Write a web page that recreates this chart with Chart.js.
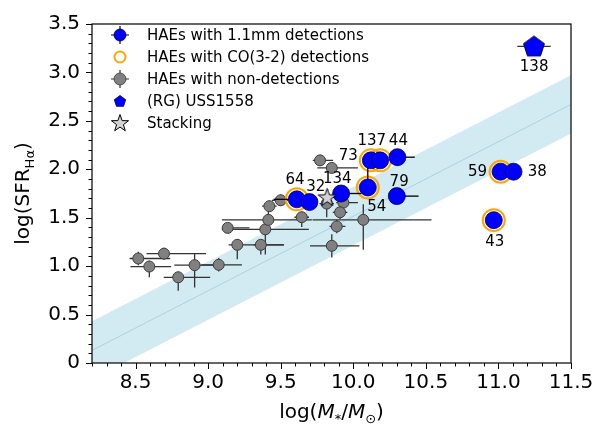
<!DOCTYPE html>
<html>
<head>
<meta charset="utf-8">
<script src="https://cdn.jsdelivr.net/npm/chart.js@4.4.0/dist/chart.umd.min.js"></script>
<style>
body { margin: 0; background: #fff; }
canvas { display: block; }
</style>
</head>
<body>
<canvas id="chart" width="605" height="430"></canvas>
<script>
// HAEs with 1.1mm detections
const mmX = [9.611, 9.698, 9.916, 10.100, 10.121, 10.185, 10.304, 10.300, 11.015, 11.104, 10.968];
const mmY = [1.690, 1.662, 1.750, 1.813, 2.092, 2.092, 2.125, 1.723, 1.975, 1.975, 1.475];
const mmXerrLo = [0.16, 0, 0, 0, 0, 0, 0, 0, 0, 0, 0];
const mmXerrHi = [0, 0, 0.14, 0, 0, 0, 0.12, 0.15, 0, 0, 0];
const mmYerrLo = [0, 0, 0, 0, 0, 0, 0, 0, 0, 0, 0];
const mmYerrHi = [0, 0, 0, 0.28, 0, 0, 0, 0, 0, 0, 0];

// HAEs with CO(3-2) detections
const coX = [9.611, 10.100, 10.121, 10.185, 11.015, 10.968];
const coY = [1.690, 1.813, 2.092, 2.092, 1.975, 1.475];

// HAEs with non-detections
const ndX = [8.519, 8.595, 8.696, 8.794, 8.907, 9.073, 9.201, 9.135, 9.363, 9.394, 9.415,
             9.422, 9.500, 9.645, 9.771, 9.852, 9.817, 9.932, 9.909, 9.886, 9.852, 10.069];
const ndY = [1.079, 0.996, 1.129, 0.885, 1.010, 1.014, 1.220, 1.395, 1.220, 1.380, 1.478,
             1.619, 1.680, 1.505, 2.092, 2.014, 1.646, 1.656, 1.556, 1.410, 1.210, 1.478];
const ndXerrLo = [0.06, 0.13, 0.12, 0.10, 0.14, 0.12, 0.06, 0.02, 0.05, 0.30, 0.32,
                  0.05, 0.06, 0.05, 0.05, 0.10, 0.05, 0.05, 0.05, 0.05, 0.15, 0.35];
const ndXerrHi = [0.22, 0.15, 0.29, 0.22, 0.14, 0.16, 0.32, 0.15, 0.16, 0.30, 0.30,
                  0.05, 0.05, 0.05, 0.09, 0.18, 0.05, 0.10, 0.05, 0.06, 0.19, 0.47];
const ndYerrLo = [0.07, 0.11, 0.06, 0.14, 0.23, 0.07, 0.15, 0.05, 0.10, 0.26, 0.08,
                  0.06, 0.06, 0.10, 0.05, 0.05, 0.14, 0.08, 0.07, 0.07, 0.12, 0.31];
const ndYerrHi = [0.07, 0.06, 0.06, 0.06, 0.12, 0.07, 0.06, 0.05, 0.05, 0.06, 0.08,
                  0.06, 0.06, 0.06, 0.05, 0.05, 0.06, 0.08, 0.07, 0.07, 0.12, 0.16];

// radio galaxy + stacking
const rgX = [11.245];
const rgY = [3.27];
const rgXerr = [0.115];
const stackX = [9.82];
const stackY = [1.71];

// main sequence band
const msX = [8.2, 11.5];
const msMid = [0.13, 2.67];
const msUp = [0.43, 2.97];
const msLo = [-0.17, 2.37];

// id labels
const labelText = ['138', '59', '38', '43', '137', '44', '73', '79', '134', '32', '64', '54'];
const labelX = [11.246, 10.856, 11.267, 10.975, 10.127, 10.311, 9.966, 10.316, 9.890, 9.742, 9.599, 10.162];
const labelY = [3.056, 1.975, 1.975, 1.25, 2.293, 2.293, 2.135, 1.868, 1.901, 1.817, 1.891, 1.606];

const xTicks = [8.5, 9.0, 9.5, 10.0, 10.5, 11.0, 11.5];
const xTickLabels = ['8.5', '9.0', '9.5', '10.0', '10.5', '11.0', '11.5'];
const yTicks = [0, 0.5, 1.0, 1.5, 2.0, 2.5, 3.0, 3.5];
const yTickLabels = ['0', '0.5', '1.0', '1.5', '2.0', '2.5', '3.0', '3.5'];

const legendLabels = ['HAEs with 1.1mm detections', 'HAEs with CO(3-2) detections',
  'HAEs with non-detections', '(RG) USS1558', 'Stacking'];

const FONT = 'DejaVu Sans';
Chart.defaults.font.family = FONT;

function polyPath(ctx, cx, cy, n, r, rin) {
  ctx.beginPath();
  const pts = rin ? n * 2 : n;
  for (let i = 0; i < pts; i++) {
    const a = -Math.PI / 2 + i * Math.PI * 2 / pts;
    const rr = rin && i % 2 ? rin : r;
    const px = cx + rr * Math.cos(a), py = cy + rr * Math.sin(a);
    if (i === 0) ctx.moveTo(px, py); else ctx.lineTo(px, py);
  }
  ctx.closePath();
}

function makeMarker(n, r, rin, fill, stroke) {
  const c = document.createElement('canvas');
  const s = Math.ceil(r * 2 + 4);
  c.width = s; c.height = s;
  const g = c.getContext('2d');
  polyPath(g, s / 2, s / 2 + (rin ? 0.5 : 0.8), n, r, rin);
  g.fillStyle = fill; g.fill();
  g.lineWidth = 1; g.strokeStyle = stroke; g.stroke();
  return c;
}

const pentagon = makeMarker(5, 11, 0, '#0000ff', '#000040');
const star = makeMarker(5, 9.5, 3.8, '#d3d3d3', '#000');

function pts(xs, ys) {
  return xs.map((v, i) => ({ x: v, y: ys[i] }));
}

function drawErr(chart, xs, ys, xlo, xhi, ylo, yhi, color) {
  const ctx = chart.ctx, sx = chart.scales.x, sy = chart.scales.y, a = chart.chartArea;
  ctx.save();
  ctx.beginPath();
  ctx.rect(a.left, a.top, a.right - a.left, a.bottom - a.top);
  ctx.clip();
  ctx.strokeStyle = color;
  ctx.lineWidth = 1.3;
  xs.forEach((v, i) => {
    const px = sx.getPixelForValue(v), py = sy.getPixelForValue(ys[i]);
    ctx.beginPath();
    if (xlo[i] || xhi[i]) {
      ctx.moveTo(sx.getPixelForValue(v - xlo[i]), py);
      ctx.lineTo(sx.getPixelForValue(v + xhi[i]), py);
    }
    if (ylo && (ylo[i] || yhi[i])) {
      ctx.moveTo(px, sy.getPixelForValue(ys[i] - ylo[i]));
      ctx.lineTo(px, sy.getPixelForValue(ys[i] + yhi[i]));
    }
    ctx.stroke();
  });
  ctx.restore();
}

const decor = {
  id: 'decor',
  beforeDatasetDraw(chart, args) {
    const key = chart.data.datasets[args.index].errKey;
    if (key === 'nd') drawErr(chart, ndX, ndY, ndXerrLo, ndXerrHi, ndYerrLo, ndYerrHi, '#333');
    if (key === 'mm') drawErr(chart, mmX, mmY, mmXerrLo, mmXerrHi, mmYerrLo, mmYerrHi, '#000');
    if (key === 'rg') drawErr(chart, rgX, rgY, rgXerr, rgXerr, null, null, '#333');
  },
  afterDraw(chart) {
    const ctx = chart.ctx, sx = chart.scales.x, sy = chart.scales.y, a = chart.chartArea;
    ctx.save();

    // labels next to the detections
    ctx.fillStyle = '#000';
    ctx.font = '15px "' + FONT + '"';
    ctx.textAlign = 'center';
    ctx.textBaseline = 'middle';
    labelText.forEach((t, i) => {
      ctx.fillText(t, sx.getPixelForValue(labelX[i]), sy.getPixelForValue(labelY[i]));
    });

    // frame
    ctx.strokeStyle = '#000';
    ctx.lineWidth = 1.2;
    ctx.strokeRect(a.left, a.top, a.right - a.left, a.bottom - a.top);

    // ticks, major + minor, outward
    ctx.lineWidth = 1;
    ctx.beginPath();
    for (let k = 82; k <= 115; k++) {
      const v = k / 10;
      const px = Math.round(sx.getPixelForValue(v)) + 0.5;
      const len = k % 5 === 0 ? 6 : 3.5;
      ctx.moveTo(px, a.bottom);
      ctx.lineTo(px, a.bottom + len);
    }
    for (let k = 0; k <= 35; k++) {
      const v = k / 10;
      const py = Math.round(sy.getPixelForValue(v)) + 0.5;
      const len = k % 5 === 0 ? 6 : 3.5;
      ctx.moveTo(a.left, py);
      ctx.lineTo(a.left - len, py);
    }
    ctx.stroke();

    // x title: log(M*/M⊙)
    const big = '20px "' + FONT + '"', ital = 'italic 20px "' + FONT + '"', sub = '13px "' + FONT + '"';
    const parts = [['log(', big, 0], ['M', ital, 0], ['*', sub, 5], ['/', big, 0], ['M', ital, 0], ['\u2299', sub, 5], [')', big, 0]];
    let w = 0;
    parts.forEach(p => { ctx.font = p[1]; w += ctx.measureText(p[0]).width; });
    let cx = (a.left + a.right) / 2 - w / 2;
    ctx.textAlign = 'left';
    ctx.textBaseline = 'alphabetic';
    parts.forEach(p => {
      ctx.font = p[1];
      ctx.fillText(p[0], cx, 418 + p[2]);
      cx += ctx.measureText(p[0]).width;
    });

    // y title: log(SFR_Hα)
    ctx.translate(29, (a.top + a.bottom) / 2);
    ctx.rotate(-Math.PI / 2);
    const yparts = [['log(SFR', big, 0], ['H\u03b1', sub, 5], [')', big, 0]];
    w = 0;
    yparts.forEach(p => { ctx.font = p[1]; w += ctx.measureText(p[0]).width; });
    cx = -w / 2;
    yparts.forEach(p => {
      ctx.font = p[1];
      ctx.fillText(p[0], cx, p[2]);
      cx += ctx.measureText(p[0]).width;
    });
    ctx.restore();

    // legend
    ctx.save();
    const lx = 120, rows = [35, 57, 79, 101, 123];
    ctx.font = '15px "' + FONT + '"';
    ctx.textBaseline = 'middle';
    ctx.fillStyle = '#000';
    legendLabels.forEach((t, i) => ctx.fillText(t, 147, rows[i] + 1));
    // 1.1mm
    ctx.strokeStyle = '#000'; ctx.lineWidth = 1.2;
    ctx.beginPath();
    ctx.moveTo(lx - 9, rows[0]); ctx.lineTo(lx + 9, rows[0]);
    ctx.moveTo(lx, rows[0] - 9); ctx.lineTo(lx, rows[0] + 9);
    ctx.stroke();
    ctx.beginPath(); ctx.arc(lx, rows[0], 6, 0, Math.PI * 2);
    ctx.fillStyle = '#0000ff'; ctx.fill(); ctx.strokeStyle = '#000040'; ctx.lineWidth = 0.8; ctx.stroke();
    // CO
    ctx.beginPath(); ctx.arc(lx, rows[1], 5.5, 0, Math.PI * 2);
    ctx.strokeStyle = '#ffa500'; ctx.lineWidth = 2; ctx.stroke();
    // non-detections
    ctx.strokeStyle = '#333'; ctx.lineWidth = 1.2;
    ctx.beginPath();
    ctx.moveTo(lx - 9, rows[2]); ctx.lineTo(lx + 9, rows[2]);
    ctx.moveTo(lx, rows[2] - 9); ctx.lineTo(lx, rows[2] + 9);
    ctx.stroke();
    ctx.beginPath(); ctx.arc(lx, rows[2], 6, 0, Math.PI * 2);
    ctx.fillStyle = '#808080'; ctx.fill(); ctx.strokeStyle = '#3c3c3c'; ctx.lineWidth = 0.8; ctx.stroke();
    // RG
    polyPath(ctx, lx, rows[3] + 0.5, 5, 6);
    ctx.fillStyle = '#0000ff'; ctx.fill(); ctx.strokeStyle = '#000040'; ctx.stroke();
    // stacking
    polyPath(ctx, lx, rows[4] + 0.5, 5, 9, 3.6);
    ctx.fillStyle = '#d3d3d3'; ctx.fill(); ctx.strokeStyle = '#000'; ctx.lineWidth = 1; ctx.stroke();
    ctx.restore();
  }
};

new Chart(document.getElementById('chart'), {
  type: 'scatter',
  data: {
    datasets: [
      { data: pts(msX, msUp), showLine: true, pointRadius: 0, borderWidth: 0,
        backgroundColor: 'rgba(173,216,230,0.55)', fill: '+1', order: 10 },
      { data: pts(msX, msLo), showLine: true, pointRadius: 0, borderWidth: 0, order: 9 },
      { data: pts(msX, msMid), showLine: true, pointRadius: 0, borderWidth: 1,
        borderColor: '#a9d3e4', order: 8 },
      { data: pts(ndX, ndY), errKey: 'nd', pointRadius: 5.5, backgroundColor: '#808080',
        borderColor: '#3c3c3c', borderWidth: 1, order: 5 },
      { data: pts(coX, coY), pointRadius: 11, backgroundColor: 'rgba(0,0,0,0)',
        borderColor: '#ffa500', borderWidth: 2, order: 4 },
      { data: pts(mmX, mmY), errKey: 'mm', pointRadius: 8.5, backgroundColor: '#0000ff',
        borderColor: '#000040', borderWidth: 0.8, order: 3 },
      { data: pts(rgX, rgY), errKey: 'rg', pointStyle: pentagon, order: 2 },
      { data: pts(stackX, stackY), pointStyle: star, order: 1 }
    ]
  },
  options: {
    responsive: false,
    animation: false,
    devicePixelRatio: 1,
    layout: { padding: { left: 0, top: 15, right: 34, bottom: 0 } },
    plugins: { legend: { display: false }, tooltip: { enabled: false } },
    scales: {
      x: {
        type: 'linear', min: 8.2, max: 11.5,
        grid: { display: false, drawTicks: false },
        border: { display: false },
        afterBuildTicks: s => { s.ticks = xTicks.map(v => ({ value: v })); },
        afterFit: s => { s.height = 67; },
        ticks: {
          color: '#000', padding: 8, maxRotation: 0, autoSkip: false,
          font: { size: 20 },
          callback: (v) => xTickLabels[xTicks.indexOf(v)]
        }
      },
      y: {
        type: 'linear', min: 0, max: 3.5,
        grid: { display: false, drawTicks: false },
        border: { display: false },
        afterBuildTicks: s => { s.ticks = yTicks.map(v => ({ value: v })); },
        afterFit: s => { s.width = 92; },
        ticks: {
          color: '#000', padding: 12, autoSkip: false,
          font: { size: 20 },
          callback: (v) => yTickLabels[yTicks.indexOf(v)]
        }
      }
    }
  },
  plugins: [decor]
});
</script>
</body>
</html>
